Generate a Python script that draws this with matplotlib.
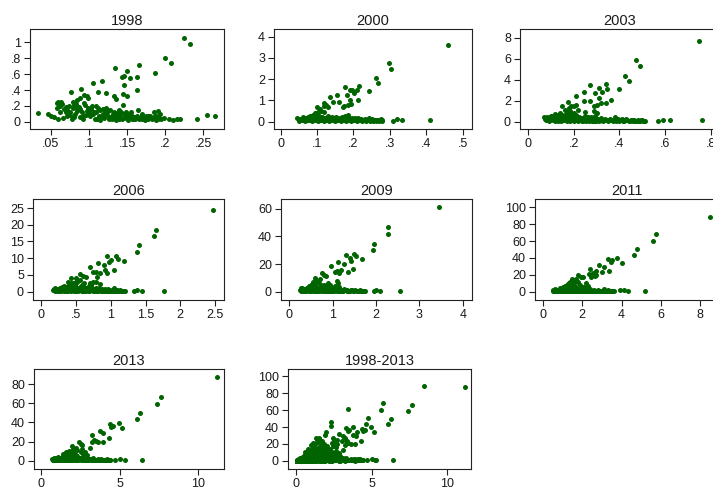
import numpy as np
import matplotlib.pyplot as plt

plt.rcParams['font.family'] = ['Liberation Sans', 'DejaVu Sans']

# --- data (x, y) per year ---
pts_1998 = [
    (.225, 1.06), (.232, .98), (.200, .81), (.207, .74), (.166, .72), (.187, .62),
    (.134, .68), (.150, .64), (.146, .58), (.143, .57), (.163, .57), (.154, .55),
    (.105, .49), (.117, .51), (.146, .47), (.077, .37), (.090, .42), (.112, .37),
    (.122, .36), (.145, .35), (.150, .33), (.133, .32), (.135, .29), (.163, .40),
    (.094, .34), (.097, .32), (.099, .30), (.088, .30), (.085, .27), (.079, .25),
    (.060, .25), (.058, .24), (.064, .25), (.065, .22), (.070, .19), (.074, .20),
    (.080, .21), (.083, .22), (.087, .19), (.095, .21), (.099, .18), (.104, .20),
    (.112, .18), (.118, .16), (.123, .17), (.128, .15), (.133, .13), (.140, .15),
    (.145, .21), (.149, .13), (.155, .12), (.165, .15), (.170, .10), (.175, .08),
    (.180, .07), (.186, .12), (.190, .14), (.193, .10), (.199, .05), (.205, .03),
    (.210, .02), (.215, .03), (.220, .03), (.242, .03), (.255, .09), (.265, .07),
    (.034, .11), (.046, .10), (.050, .08), (.055, .06), (.060, .03), (.062, .12),
    (.066, .05), (.070, .12), (.072, .15), (.076, .09), (.078, .04), (.082, .10),
    (.085, .14), (.088, .06), (.091, .12), (.093, .03), (.096, .09), (.100, .14),
    (.102, .07), (.106, .10), (.108, .04), (.110, .13), (.113, .08), (.115, .02),
    (.118, .10), (.120, .05), (.124, .09), (.126, .03), (.130, .07), (.132, .10),
    (.136, .02), (.138, .06), (.141, .09), (.143, .03), (.146, .05), (.148, .10),
    (.151, .02), (.153, .06), (.157, .03), (.160, .04), (.163, .08), (.168, .06),
    (.172, .05), (.178, .04), (.183, .03), (.188, .02), (.192, .05), (.195, .03),
    (.188, .08),
    (.058, .18), (.062, .20), (.067, .16), (.071, .08), (.075, .13), (.079, .17),
    (.081, .06), (.084, .18), (.089, .16), (.092, .08), (.094, .24), (.097, .14),
    (.101, .10), (.103, .16), (.107, .13), (.109, .20), (.111, .03), (.114, .15),
    (.117, .06), (.121, .12), (.125, .14), (.127, .06), (.131, .04), (.134, .08),
    (.137, .11), (.139, .04), (.142, .12), (.147, .08), (.150, .06), (.152, .10),
    (.156, .08), (.158, .04), (.161, .06), (.166, .03), (.170, .04), (.174, .02),
    (.177, .07), (.181, .05), (.185, .06), (.191, .03),
]

pts_2000 = [
    (.46, 3.62), (.297, 2.75), (.303, 2.48), (.262, 2.05), (.268, 1.82), (.215, 1.68),
    (.177, 1.62), (.190, 1.50), (.197, 1.48), (.210, 1.47), (.242, 1.45), (.202, 1.35),
    (.183, 1.27), (.155, 1.28), (.137, 1.15), (.213, 1.00), (.190, 1.03), (.160, .93),
    (.145, .95), (.193, .85), (.185, .80), (.175, .75), (.172, .70), (.120, .88),
    (.125, .78), (.118, .72), (.130, .70), (.100, .70), (.108, .60), (.112, .50),
    (.103, .45), (.095, .40), (.120, .45),
    (.045, .18), (.05, .05), (.055, .12), (.06, .15), (.062, .08), (.065, .18),
    (.068, .05), (.07, .20), (.072, .10), (.075, .22), (.078, .06), (.08, .28),
    (.082, .12), (.085, .25), (.087, .04), (.09, .30), (.092, .15), (.095, .08),
    (.098, .20), (.10, .12), (.102, .03), (.105, .25), (.108, .10), (.11, .18),
    (.112, .06), (.115, .22), (.118, .12), (.12, .04), (.123, .15), (.126, .08),
    (.13, .20), (.133, .05), (.136, .12), (.14, .18), (.143, .07), (.146, .14),
    (.15, .03), (.153, .10), (.156, .20), (.16, .06), (.163, .12), (.166, .04),
    (.17, .15), (.173, .08), (.176, .25), (.18, .05), (.183, .12), (.186, .30),
    (.19, .08), (.194, .03), (.198, .14), (.202, .06), (.206, .10), (.21, .04),
    (.215, .12), (.22, .07), (.225, .03), (.23, .10), (.235, .05), (.24, .12),
    (.245, .04), (.25, .08), (.255, .03), (.26, .06), (.265, .10), (.27, .04),
    (.275, .12), (.28, .08), (.31, .05), (.32, .12), (.335, .08), (.41, .08),
    (.05, .15), (.058, .10), (.063, .22), (.067, .12), (.071, .16), (.074, .08),
    (.077, .18), (.081, .20), (.084, .10), (.088, .16), (.091, .22), (.094, .12),
    (.097, .26), (.099, .06), (.104, .18), (.107, .15), (.111, .24), (.114, .08),
    (.117, .16), (.121, .20), (.124, .10), (.128, .14), (.131, .26), (.135, .18),
    (.138, .08), (.142, .22), (.145, .10), (.149, .16), (.152, .24), (.155, .07),
    (.159, .14), (.162, .20), (.165, .09), (.169, .22), (.172, .12), (.178, .16),
    (.182, .20), (.185, .08), (.189, .16), (.192, .12), (.196, .20), (.200, .10),
    (.204, .16), (.208, .06), (.212, .18), (.218, .10), (.222, .14), (.228, .06),
    (.232, .15), (.238, .08), (.243, .16), (.248, .10), (.252, .14), (.258, .10),
    (.262, .05), (.268, .07), (.272, .10), (.278, .05),
]

pts_2003 = [
    (.75, 7.7), (.472, 5.9), (.492, 5.3), (.423, 4.35), (.443, 3.85), (.40, 3.1),
    (.273, 3.5), (.34, 3.55), (.31, 3.2), (.345, 3.1), (.325, 2.85), (.243, 2.8),
    (.295, 2.7), (.21, 2.45), (.27, 2.0), (.31, 2.25), (.245, 1.95), (.365, 2.1),
    (.32, 1.8), (.34, 1.75), (.30, 1.6), (.29, 1.45), (.175, 1.85), (.19, 1.5),
    (.21, 1.6), (.20, 1.45), (.18, 1.3), (.15, 1.45), (.16, 1.1), (.185, 1.0),
    (.22, 1.1), (.14, .8), (.12, .7), (.13, .6), (.10, .5), (.17, .9), (.2, .8),
    (.25, .9), (.29, 1.0), (.3, .8),
    (.07, .4), (.08, .2), (.085, .35), (.09, .1), (.095, .45), (.10, .25), (.105, .5),
    (.11, .15), (.115, .35), (.12, .05), (.125, .4), (.13, .2), (.135, .55), (.14, .3),
    (.145, .1), (.15, .45), (.155, .2), (.16, .6), (.165, .3), (.17, .1), (.175, .5),
    (.18, .25), (.185, .7), (.19, .15), (.195, .4), (.20, .05), (.205, .3), (.21, .6),
    (.215, .2), (.22, .1), (.225, .45), (.23, .25), (.235, .05), (.24, .35), (.245, .15),
    (.25, .5), (.255, .1), (.26, .3), (.265, .05), (.27, .2), (.275, .4), (.28, .1),
    (.285, .3), (.29, .05), (.295, .5), (.30, .2), (.31, .1), (.32, .35), (.33, .05),
    (.34, .2), (.35, .1), (.36, .3), (.37, .05), (.38, .4), (.39, .15), (.40, .05),
    (.41, .25), (.42, .1), (.43, .3), (.44, .05), (.45, .2), (.46, .1), (.47, .05),
    (.48, .15), (.49, .05), (.50, .2), (.51, .1), (.57, .1), (.59, .2), (.62, .15),
    (.76, .15),
    (.075, .3), (.082, .45), (.088, .25), (.092, .3), (.098, .15), (.103, .4),
    (.108, .3), (.113, .55), (.118, .2), (.122, .3), (.128, .5), (.132, .1),
    (.138, .4), (.142, .2), (.148, .6), (.152, .35), (.158, .15), (.162, .45),
    (.168, .2), (.172, .7), (.178, .4), (.182, .1), (.188, .5), (.192, .3),
    (.198, .6), (.202, .2), (.208, .15), (.212, .4), (.218, .3), (.222, .2),
    (.228, .15), (.232, .35), (.238, .2), (.242, .1), (.248, .3), (.252, .2),
    (.258, .15), (.262, .4), (.268, .15), (.272, .3), (.278, .2), (.282, .15),
    (.288, .2), (.292, .3), (.298, .1), (.305, .3), (.315, .2), (.325, .15),
    (.335, .3), (.345, .15), (.355, .2), (.365, .15), (.375, .2), (.385, .1),
    (.395, .3), (.405, .15), (.415, .1), (.425, .2), (.435, .15), (.445, .1),
    (.455, .15), (.465, .2), (.475, .1), (.485, .1), (.495, .15), (.505, .05),
]

pts_2006 = [
    (2.47, 24.3), (1.65, 18.5), (1.62, 16.5), (1.40, 13.8), (1.38, 12.0), (1.08, 10.8),
    (.94, 10.7), (1.10, 9.8), (1.00, 9.6), (1.19, 9.3), (.98, 9.0), (.82, 8.6),
    (.90, 8.0), (.70, 7.3), (.92, 6.5), (1.04, 6.5), (.78, 6.0), (.75, 5.8),
    (.85, 5.5), (.95, 5.5), (.55, 5.4), (.60, 4.8), (.65, 4.5), (.80, 4.5),
    (.50, 4.0), (.43, 4.1), (.50, 3.0), (.45, 2.5), (.40, 2.0), (.35, 1.5),
    (.55, 3.5), (.75, 3.0), (.70, 2.5), (.85, 2.2),
    (.17, .5), (.19, .2), (.20, 1.0), (.22, .4), (.24, .8), (.25, .1), (.27, 1.2),
    (.28, .3), (.30, .7), (.32, .1), (.33, 1.0), (.35, .4), (.37, 1.5), (.38, .2),
    (.40, .8), (.42, .1), (.44, 1.2), (.45, .5), (.47, .2), (.48, 1.0), (.50, .3),
    (.52, .7), (.53, .1), (.55, 1.3), (.57, .4), (.58, .1), (.60, .9), (.62, .3),
    (.64, 1.1), (.65, .1), (.67, .5), (.69, .2), (.70, 1.0), (.72, .4), (.74, .1),
    (.75, .7), (.77, .2), (.79, 1.0), (.80, .3), (.82, .1), (.84, .6), (.86, .2),
    (.88, .9), (.90, .1), (.92, .4), (.94, .2), (.96, .7), (.98, .1), (1.00, .3),
    (1.02, .1), (1.04, 1.0), (1.06, .2), (1.08, .4), (1.10, .1), (1.12, .3),
    (1.15, .1), (1.18, .2), (1.20, .1), (1.33, .3), (1.38, .5), (1.45, .3),
    (1.76, .3),
    (.18, .8), (.21, .6), (.23, .2), (.26, .5), (.29, 1.0), (.31, .4), (.34, .7),
    (.36, .2), (.39, 1.1), (.41, .5), (.43, .8), (.46, 1.4), (.49, .6), (.51, 1.2),
    (.54, .5), (.56, .8), (.59, .3), (.61, 1.4), (.63, .6), (.66, .9), (.68, .3),
    (.71, .6), (.73, 1.2), (.76, .4), (.78, .8), (.81, .5), (.83, 1.2), (.85, .4),
    (.87, .6), (.89, .3), (.91, .7), (.93, .3), (.95, .5), (.97, .3), (.99, .6),
    (1.01, .2), (1.03, .5), (1.05, .3), (1.07, .2), (1.09, .6), (1.11, .2),
    (1.13, .4), (1.16, .3), (.38, 3.0), (.42, 2.5), (.48, 2.0), (.52, 3.0),
    (.58, 2.0), (.62, 2.5), (.68, 1.8), (.72, 2.0), (.78, 3.0), (.30, 1.3),
    (.32, 1.6),
]

pts_2009 = [
    (3.45, 61.0), (2.28, 46.5), (2.27, 41.5), (1.95, 34.5), (1.93, 30.0), (1.30, 26.5),
    (1.50, 27.0), (1.53, 25.5), (1.40, 24.5), (1.42, 22.5), (1.67, 23.5), (1.13, 21.5),
    (1.25, 20.0), (.97, 18.5), (1.48, 16.5), (1.20, 16.0), (1.10, 15.0), (1.35, 14.0),
    (1.15, 13.5), (1.05, 14.5), (.75, 13.5), (.80, 12.0), (.85, 11.5), (.60, 10.0),
    (.70, 9.5), (.65, 8.0), (.55, 7.0), (.50, 5.0), (.45, 4.0), (1.10, 8.0),
    (1.12, 6.0), (.90, 6.0), (.80, 5.0),
    (.25, 1.5), (.27, .5), (.30, 2.5), (.32, 1.0), (.35, .3), (.37, 2.0), (.40, 1.2),
    (.42, 3.0), (.45, .5), (.47, 1.8), (.50, .2), (.52, 2.5), (.55, 1.0), (.57, .3),
    (.60, 2.0), (.62, .8), (.65, 3.0), (.67, .2), (.70, 1.5), (.72, .5), (.75, 2.5),
    (.78, 1.0), (.80, .2), (.83, 1.8), (.85, .5), (.88, 2.5), (.90, .8), (.93, .2),
    (.95, 1.5), (.98, .5), (1.00, 2.0), (1.03, .3), (1.06, 1.2), (1.10, .5),
    (1.13, 2.5), (1.16, .2), (1.20, 1.0), (1.24, .4), (1.28, 1.5), (1.32, .2),
    (1.36, .8), (1.40, .3), (1.45, 1.2), (1.50, .5), (1.55, .2), (1.60, .8),
    (1.65, .3), (1.70, .6), (1.75, .2), (1.95, .5), (2.00, 1.5), (2.10, .8),
    (2.55, .5),
    (.26, 2.5), (.28, 1.5), (.31, .5), (.33, 2.0), (.36, 1.5), (.38, .5), (.41, 2.5),
    (.43, 1.0), (.46, 3.0), (.48, .8), (.51, 1.5), (.53, 3.5), (.56, 2.0), (.58, .8),
    (.61, 3.0), (.63, 1.5), (.66, .8), (.68, 2.5), (.71, 1.0), (.73, 3.5), (.76, 1.5),
    (.79, .5), (.81, 2.5), (.84, 1.0), (.86, 3.0), (.89, 1.5), (.91, .5), (.94, 2.5),
    (.96, 1.0), (.99, 3.0), (1.01, 1.0), (1.04, 2.0), (1.08, 1.0), (1.11, 1.8),
    (1.14, .8), (1.18, 1.5), (1.22, .8), (1.26, 2.0), (1.30, 1.0), (1.34, 1.5),
    (1.38, .8), (1.43, 1.5), (1.48, .8), (1.52, 1.2), (1.58, .5), (1.63, 1.0),
    (1.68, .4), (1.72, .8), (.55, 4.0), (.60, 5.0), (.68, 6.0), (.72, 4.5),
    (.85, 4.0), (.95, 5.0), (1.05, 4.0), (1.15, 3.5),
]

pts_2011 = [
    (8.5, 89.0), (5.75, 68.0), (5.6, 60.5), (4.78, 50.5), (4.65, 44.0), (3.75, 40.0),
    (3.3, 38.5), (3.45, 35.0), (4.0, 34.5), (3.5, 37.0), (2.85, 31.5), (3.1, 29.0),
    (3.35, 24.0), (2.4, 27.0), (2.7, 25.0), (3.0, 23.0), (2.55, 22.0), (2.35, 21.0),
    (2.7, 20.0), (2.45, 17.0), (2.65, 18.0), (1.8, 19.5), (1.95, 17.0), (2.05, 17.5),
    (1.7, 15.0), (1.5, 15.0), (1.65, 12.0), (1.4, 12.0), (1.8, 11.0), (2.2, 10.0),
    (1.3, 9.0), (1.2, 7.0), (1.0, 6.0),
    (.5, 2), (.55, .5), (.6, 3), (.65, 1), (.7, .3), (.75, 2.5), (.8, 1), (.85, 4),
    (.9, .5), (.95, 2), (1.0, .2), (1.05, 3), (1.1, 1), (1.15, 4.5), (1.2, .5),
    (1.25, 2), (1.3, .2), (1.35, 3.5), (1.4, 1), (1.45, 5), (1.5, .5), (1.55, 2.5),
    (1.6, .2), (1.65, 4), (1.7, 1), (1.75, .3), (1.8, 3), (1.85, 1), (1.9, .2),
    (1.95, 2), (2.0, .5), (2.05, 4), (2.1, 1), (2.15, .2), (2.2, 2.5), (2.25, .5),
    (2.3, 1.5), (2.35, .2), (2.4, 3), (2.45, 1), (2.5, .3), (2.6, 2), (2.7, .5),
    (2.8, 1.5), (2.9, .2), (3.0, 1), (3.1, 3), (3.2, .5), (3.3, 1.5), (3.4, .3),
    (3.5, 1), (3.6, .5), (3.9, 1.5), (4.1, 1.5), (4.3, 1), (5.2, .5),
    (.52, 1), (.58, 1.5), (.62, .5), (.68, 2), (.72, 1.5), (.78, .5), (.82, 2.5),
    (.88, 1.5), (.92, 3), (.98, 1), (1.02, 2), (1.08, .5), (1.12, 2.5), (1.18, 1.5),
    (1.22, 3.5), (1.28, 1), (1.32, 2), (1.38, .5), (1.42, 2.5), (1.48, 1.5),
    (1.52, 3.5), (1.58, 1), (1.62, 2), (1.68, .5), (1.72, 2.5), (1.78, 1.5),
    (1.82, .5), (1.88, 2), (1.92, 1), (1.98, 3), (2.02, 1.5), (2.08, .5), (2.12, 2),
    (2.18, 1), (2.28, .8), (2.38, 1.5), (2.48, .8), (2.55, 1.2), (2.65, .5),
    (2.75, 1), (2.85, .5), (2.95, 1), (3.05, .5), (3.15, 1), (3.25, .5), (3.35, .8),
    (3.45, .5), (1.1, 7), (1.25, 8), (1.4, 6), (1.5, 9), (1.6, 7), (1.7, 6),
    (1.9, 8), (2.0, 6), (2.1, 5), (1.35, 10), (1.55, 12), (2.3, 7),
]

pts_2013 = [
    (11.2, 87.5), (7.65, 66.5), (7.4, 59.5), (6.3, 49.5), (6.1, 43.5), (4.95, 39.5),
    (4.35, 38.0), (4.45, 35.0), (4.55, 36.0), (5.15, 34.0), (4.3, 23.5), (3.75, 31.0),
    (3.95, 29.0), (3.2, 27.0), (3.35, 22.0), (3.45, 21.0), (3.2, 19.0), (3.6, 20.0),
    (3.9, 20.0), (2.4, 19.5), (2.5, 17.0), (2.6, 16.5), (2.2, 13.5), (1.95, 15.0),
    (2.0, 12.0), (1.75, 10.0), (1.6, 9.0), (2.3, 11.0), (3.1, 13.0), (2.8, 9.0),
    (2.9, 6.0),
    (.7, 2), (.75, .5), (.8, 3), (.85, 1), (.9, .3), (.95, 2.5), (1.0, 1), (1.05, 4),
    (1.1, .5), (1.15, 2), (1.2, .2), (1.25, 3), (1.3, 1), (1.35, 4.5), (1.4, .5),
    (1.45, 2), (1.5, .2), (1.55, 3.5), (1.6, 1), (1.65, 5), (1.7, .5), (1.75, 2.5),
    (1.8, .2), (1.85, 4), (1.9, 1), (2.0, .3), (2.1, 3), (2.2, 1), (2.3, .2),
    (2.4, 2), (2.5, .5), (2.6, 4), (2.7, 1), (2.8, .2), (2.9, 2.5), (3.0, .5),
    (3.1, 1.5), (3.2, .2), (3.3, 3), (3.4, 1), (3.5, .3), (3.6, 2), (3.7, .5),
    (3.8, 1.5), (3.9, .2), (4.0, 1), (4.1, .5), (4.2, 1.5), (4.3, .3), (4.4, 1),
    (4.7, 1), (5.0, 1.5), (5.3, 1), (6.4, .5),
    (.72, 1), (.78, 1.5), (.82, .5), (.88, 2), (.92, 1.5), (.98, .5), (1.02, 2.5),
    (1.08, 1.5), (1.12, 3), (1.18, 1), (1.22, 2), (1.28, .5), (1.32, 2.5), (1.38, 1.5),
    (1.42, 3.5), (1.48, 1), (1.52, 2), (1.58, .5), (1.62, 2.5), (1.68, 1.5),
    (1.72, 3.5), (1.78, 1), (1.82, 2), (1.88, .5), (1.95, 2.5), (2.05, 1.5),
    (2.15, .5), (2.25, 2), (2.35, 1), (2.45, 3), (2.55, 1.5), (2.65, .5), (2.75, 2),
    (2.85, 1), (2.95, .8), (3.05, 1.5), (3.15, .8), (3.25, 1.2), (3.35, .5),
    (3.45, 1), (3.55, .5), (3.65, 1), (3.75, .5), (3.85, 1), (3.95, .5), (4.05, .8),
    (4.15, .5), (4.25, .8), (4.35, .5), (1.4, 7), (1.5, 6), (1.7, 8), (1.8, 7),
    (1.9, 6), (2.1, 8), (2.2, 6), (2.3, 5), (2.0, 10), (2.5, 9), (2.7, 7), (2.6, 12),
]

titles = ["1998", "2000", "2003", "2006", "2009", "2011", "2013", "1998-2013"]
pooled = (pts_1998 + pts_2000 + pts_2003 + pts_2006 + pts_2009
          + pts_2011 + pts_2013)
series = [pts_1998, pts_2000, pts_2003, pts_2006, pts_2009,
          pts_2011, pts_2013, pooled]

xticks = [[.05, .1, .15, .2, .25], [0, .1, .2, .3, .4, .5], [0, .2, .4, .6, .8],
          [0, .5, 1, 1.5, 2, 2.5], [0, 1, 2, 3, 4], [0, 2, 4, 6, 8],
          [0, 5, 10], [0, 5, 10]]
yticks = [[0, .2, .4, .6, .8, 1], [0, 1, 2, 3, 4], [0, 2, 4, 6, 8],
          [0, 5, 10, 15, 20, 25], [0, 20, 40, 60], [0, 20, 40, 60, 80, 100],
          [0, 20, 40, 60, 80], [0, 20, 40, 60, 80, 100]]

# --- layout (pixel boxes of the plot regions: left, top, right, bottom) ---
W, H = 713, 490
boxes = [(30, 29, 224, 129), (274, 29, 472, 129), (520, 29, 720, 129),
         (33, 199, 224, 300), (281, 199, 472, 300), (535, 199, 720, 300),
         (34, 369, 224, 469), (288, 369, 471, 469)]
xlims = [(.023, .277), (-.018, .526), (-.035, .84), (-.12, 2.63), (-.19, 4.21),
         (-.4, 9.0), (-.47, 11.64), (-.56, 11.6)]
ylims = [(-.09, 1.17), (-.34, 4.36), (-.7, 8.83), (-2.5, 27.7), (-6.0, 67.0),
         (-9.9, 110), (-8.7, 95.7), (-9.8, 108.8)]


def stata_fmt(v, pos):
    s = f"{v:g}"
    if s.startswith("0."):
        s = s[1:]
    return s


fig = plt.figure(figsize=(W / 100, H / 100), dpi=100)
fig.patch.set_facecolor("white")

for i in range(8):
    l, t, r, b = boxes[i]
    ax = fig.add_axes([l / W, 1 - b / H, (r - l) / W, (b - t) / H])
    xy = np.array(series[i])
    ax.scatter(xy[:, 0], xy[:, 1], s=13, color="#006400", linewidths=0, zorder=3)
    ax.set_xlim(*xlims[i])
    ax.set_ylim(*ylims[i])
    ax.set_xticks(xticks[i])
    ax.set_yticks(yticks[i])
    ax.xaxis.set_major_formatter(plt.FuncFormatter(stata_fmt))
    ax.yaxis.set_major_formatter(plt.FuncFormatter(stata_fmt))
    ax.tick_params(direction="out", length=4.5, width=0.8, color="#222222",
                   labelsize=9, labelcolor="#1a1a1a", pad=2)
    for sp in ax.spines.values():
        sp.set_linewidth(0.8)
        sp.set_color("#222222")
    ax.set_title(titles[i], fontsize=10.5, color="#1a1a1a", pad=3)

fig.savefig("out.png", dpi=100)
